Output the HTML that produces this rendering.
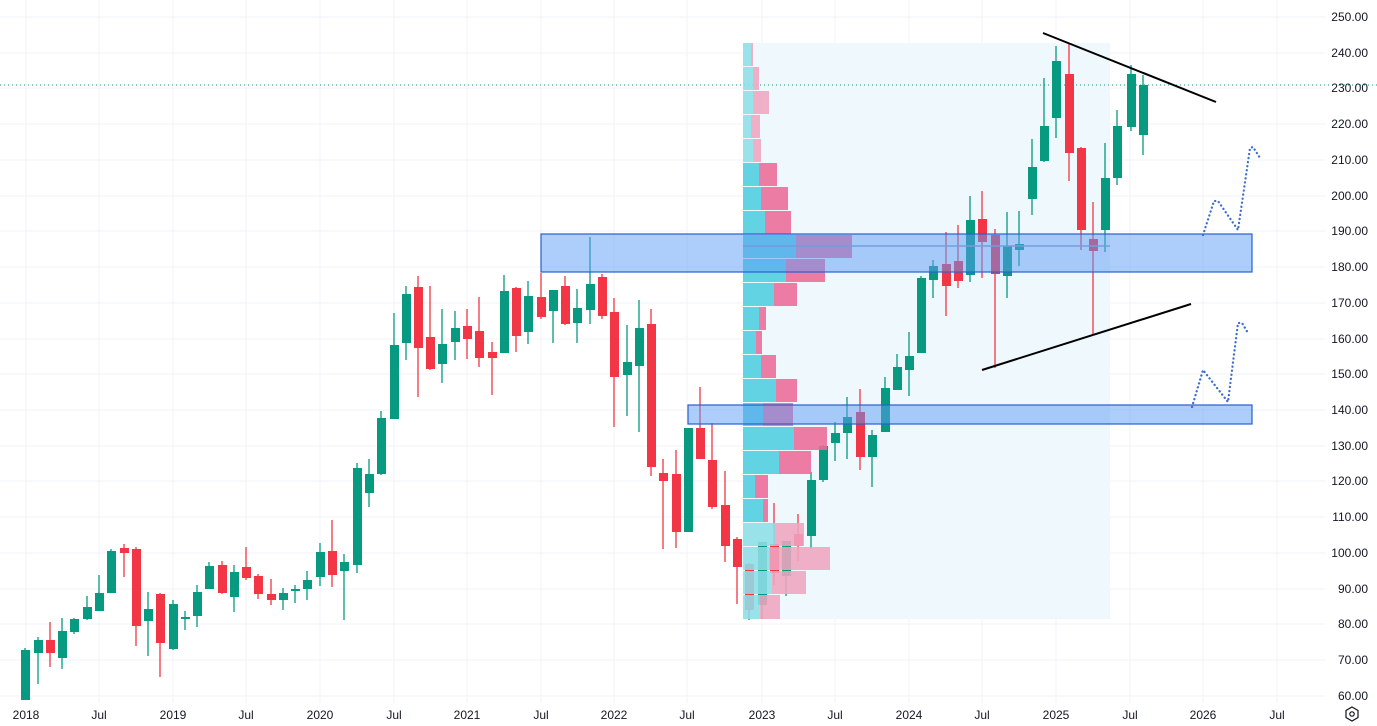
<!DOCTYPE html>
<html><head><meta charset="utf-8"><style>
html,body{margin:0;padding:0;background:#fff;}
svg{display:block;font-family:"Liberation Sans",sans-serif;}
</style></head><body>
<svg width="1377" height="726" viewBox="0 0 1377 726" xmlns="http://www.w3.org/2000/svg">
<rect width="1377" height="726" fill="#fff"/>
<g stroke="#f0f3fa" stroke-width="1">
<line x1="26" y1="0" x2="26" y2="703"/><line x1="99" y1="0" x2="99" y2="703"/><line x1="173" y1="0" x2="173" y2="703"/><line x1="246" y1="0" x2="246" y2="703"/><line x1="320" y1="0" x2="320" y2="703"/><line x1="394" y1="0" x2="394" y2="703"/><line x1="467" y1="0" x2="467" y2="703"/><line x1="541" y1="0" x2="541" y2="703"/><line x1="614" y1="0" x2="614" y2="703"/><line x1="687" y1="0" x2="687" y2="703"/><line x1="762" y1="0" x2="762" y2="703"/><line x1="835" y1="0" x2="835" y2="703"/><line x1="909" y1="0" x2="909" y2="703"/><line x1="982" y1="0" x2="982" y2="703"/><line x1="1056" y1="0" x2="1056" y2="703"/><line x1="1130" y1="0" x2="1130" y2="703"/><line x1="1203" y1="0" x2="1203" y2="703"/><line x1="1277" y1="0" x2="1277" y2="703"/>
<line x1="0" y1="17" x2="1325" y2="17"/><line x1="0" y1="53" x2="1325" y2="53"/><line x1="0" y1="88" x2="1325" y2="88"/><line x1="0" y1="124" x2="1325" y2="124"/><line x1="0" y1="160" x2="1325" y2="160"/><line x1="0" y1="196" x2="1325" y2="196"/><line x1="0" y1="231" x2="1325" y2="231"/><line x1="0" y1="267" x2="1325" y2="267"/><line x1="0" y1="303" x2="1325" y2="303"/><line x1="0" y1="339" x2="1325" y2="339"/><line x1="0" y1="374" x2="1325" y2="374"/><line x1="0" y1="410" x2="1325" y2="410"/><line x1="0" y1="446" x2="1325" y2="446"/><line x1="0" y1="481" x2="1325" y2="481"/><line x1="0" y1="517" x2="1325" y2="517"/><line x1="0" y1="553" x2="1325" y2="553"/><line x1="0" y1="589" x2="1325" y2="589"/><line x1="0" y1="624" x2="1325" y2="624"/><line x1="0" y1="660" x2="1325" y2="660"/><line x1="0" y1="696" x2="1325" y2="696"/>
</g>
<rect x="743" y="43" width="367" height="576" fill="#eff8fd"/>
<line x1="0" y1="85" x2="1377" y2="85" stroke="#089981" stroke-width="1" stroke-dasharray="1,3"/>
<g stroke-width="1.3">
<line x1="25" y1="648" x2="25" y2="700" stroke="#089981"/><rect x="21" y="650" width="9" height="50" fill="#089981"/>
<line x1="38" y1="637" x2="38" y2="684" stroke="#089981"/><rect x="34" y="640" width="9" height="13" fill="#089981"/>
<line x1="50" y1="622" x2="50" y2="667" stroke="#f23645"/><rect x="46" y="640" width="9" height="13" fill="#f23645"/>
<line x1="62" y1="618" x2="62" y2="669" stroke="#089981"/><rect x="58" y="631" width="9" height="27" fill="#089981"/>
<line x1="74" y1="618" x2="74" y2="634" stroke="#089981"/><rect x="70" y="619" width="9" height="13" fill="#089981"/>
<line x1="87" y1="596" x2="87" y2="620" stroke="#089981"/><rect x="83" y="607" width="9" height="12" fill="#089981"/>
<line x1="99" y1="575" x2="99" y2="611" stroke="#089981"/><rect x="95" y="593" width="9" height="18" fill="#089981"/>
<line x1="111" y1="549" x2="111" y2="593" stroke="#089981"/><rect x="107" y="551" width="9" height="42" fill="#089981"/>
<line x1="124" y1="544" x2="124" y2="577" stroke="#f23645"/><rect x="120" y="548" width="9" height="5" fill="#f23645"/>
<line x1="136" y1="547" x2="136" y2="646" stroke="#f23645"/><rect x="132" y="549" width="9" height="77" fill="#f23645"/>
<line x1="148" y1="592" x2="148" y2="656" stroke="#089981"/><rect x="144" y="609" width="9" height="12" fill="#089981"/>
<line x1="160" y1="593" x2="160" y2="677" stroke="#f23645"/><rect x="156" y="594" width="9" height="49" fill="#f23645"/>
<line x1="173" y1="600" x2="173" y2="650" stroke="#089981"/><rect x="169" y="604" width="9" height="45" fill="#089981"/>
<line x1="185" y1="611" x2="185" y2="630" stroke="#089981"/><rect x="181" y="617" width="9" height="2" fill="#089981"/>
<line x1="197" y1="585" x2="197" y2="627" stroke="#089981"/><rect x="193" y="592" width="9" height="24" fill="#089981"/>
<line x1="209" y1="562" x2="209" y2="589" stroke="#089981"/><rect x="205" y="566" width="9" height="23" fill="#089981"/>
<line x1="222" y1="561" x2="222" y2="594" stroke="#f23645"/><rect x="218" y="565" width="9" height="28" fill="#f23645"/>
<line x1="234" y1="565" x2="234" y2="612" stroke="#089981"/><rect x="230" y="572" width="9" height="25" fill="#089981"/>
<line x1="246" y1="547" x2="246" y2="580" stroke="#f23645"/><rect x="242" y="567" width="9" height="11" fill="#f23645"/>
<line x1="258" y1="574" x2="258" y2="599" stroke="#f23645"/><rect x="254" y="576" width="9" height="18" fill="#f23645"/>
<line x1="271" y1="579" x2="271" y2="605" stroke="#f23645"/><rect x="267" y="594" width="9" height="6" fill="#f23645"/>
<line x1="283" y1="588" x2="283" y2="610" stroke="#089981"/><rect x="279" y="593" width="9" height="7" fill="#089981"/>
<line x1="295" y1="585" x2="295" y2="603" stroke="#089981"/><rect x="291" y="589" width="9" height="2" fill="#089981"/>
<line x1="307" y1="571" x2="307" y2="600" stroke="#089981"/><rect x="303" y="580" width="9" height="9" fill="#089981"/>
<line x1="320" y1="543" x2="320" y2="586" stroke="#089981"/><rect x="316" y="552" width="9" height="25" fill="#089981"/>
<line x1="332" y1="520" x2="332" y2="587" stroke="#f23645"/><rect x="328" y="551" width="9" height="24" fill="#f23645"/>
<line x1="344" y1="554" x2="344" y2="620" stroke="#089981"/><rect x="340" y="562" width="9" height="9" fill="#089981"/>
<line x1="357" y1="463" x2="357" y2="573" stroke="#089981"/><rect x="353" y="468" width="9" height="97" fill="#089981"/>
<line x1="369" y1="459" x2="369" y2="507" stroke="#089981"/><rect x="365" y="474" width="9" height="19" fill="#089981"/>
<line x1="381" y1="411" x2="381" y2="475" stroke="#089981"/><rect x="377" y="418" width="9" height="56" fill="#089981"/>
<line x1="394" y1="313" x2="394" y2="419" stroke="#089981"/><rect x="390" y="345" width="9" height="74" fill="#089981"/>
<line x1="406" y1="286" x2="406" y2="360" stroke="#089981"/><rect x="402" y="294" width="9" height="49" fill="#089981"/>
<line x1="418" y1="276" x2="418" y2="397" stroke="#f23645"/><rect x="414" y="287" width="9" height="61" fill="#f23645"/>
<line x1="430" y1="286" x2="430" y2="370" stroke="#f23645"/><rect x="426" y="337" width="9" height="32" fill="#f23645"/>
<line x1="442" y1="309" x2="442" y2="383" stroke="#089981"/><rect x="438" y="344" width="9" height="20" fill="#089981"/>
<line x1="455" y1="311" x2="455" y2="360" stroke="#089981"/><rect x="451" y="328" width="9" height="14" fill="#089981"/>
<line x1="467" y1="309" x2="467" y2="359" stroke="#f23645"/><rect x="463" y="326" width="9" height="13" fill="#f23645"/>
<line x1="479" y1="297" x2="479" y2="367" stroke="#f23645"/><rect x="475" y="331" width="9" height="27" fill="#f23645"/>
<line x1="492" y1="342" x2="492" y2="395" stroke="#f23645"/><rect x="488" y="352" width="9" height="6" fill="#f23645"/>
<line x1="504" y1="275" x2="504" y2="353" stroke="#089981"/><rect x="500" y="291" width="9" height="62" fill="#089981"/>
<line x1="516" y1="287" x2="516" y2="352" stroke="#f23645"/><rect x="512" y="288" width="9" height="48" fill="#f23645"/>
<line x1="528" y1="281" x2="528" y2="344" stroke="#089981"/><rect x="524" y="296" width="9" height="36" fill="#089981"/>
<line x1="541" y1="273" x2="541" y2="319" stroke="#f23645"/><rect x="537" y="297" width="9" height="20" fill="#f23645"/>
<line x1="553" y1="290" x2="553" y2="343" stroke="#089981"/><rect x="549" y="290" width="9" height="21" fill="#089981"/>
<line x1="565" y1="276" x2="565" y2="325" stroke="#f23645"/><rect x="561" y="286" width="9" height="38" fill="#f23645"/>
<line x1="577" y1="289" x2="577" y2="343" stroke="#089981"/><rect x="573" y="308" width="9" height="15" fill="#089981"/>
<line x1="590" y1="237" x2="590" y2="324" stroke="#089981"/><rect x="586" y="284" width="9" height="26" fill="#089981"/>
<line x1="602" y1="274" x2="602" y2="319" stroke="#f23645"/><rect x="598" y="277" width="9" height="39" fill="#f23645"/>
<line x1="614" y1="298" x2="614" y2="427" stroke="#f23645"/><rect x="610" y="312" width="9" height="65" fill="#f23645"/>
<line x1="627" y1="325" x2="627" y2="416" stroke="#089981"/><rect x="623" y="362" width="9" height="13" fill="#089981"/>
<line x1="639" y1="300" x2="639" y2="432" stroke="#089981"/><rect x="635" y="328" width="9" height="38" fill="#089981"/>
<line x1="651" y1="309" x2="651" y2="476" stroke="#f23645"/><rect x="647" y="324" width="9" height="143" fill="#f23645"/>
<line x1="663" y1="459" x2="663" y2="549" stroke="#f23645"/><rect x="659" y="473" width="9" height="8" fill="#f23645"/>
<line x1="676" y1="450" x2="676" y2="548" stroke="#f23645"/><rect x="672" y="474" width="9" height="58" fill="#f23645"/>
<line x1="688" y1="428" x2="688" y2="532" stroke="#089981"/><rect x="684" y="428" width="9" height="104" fill="#089981"/>
<line x1="700" y1="387" x2="700" y2="459" stroke="#f23645"/><rect x="696" y="428" width="9" height="31" fill="#f23645"/>
<line x1="712" y1="423" x2="712" y2="509" stroke="#f23645"/><rect x="708" y="460" width="9" height="47" fill="#f23645"/>
<line x1="725" y1="471" x2="725" y2="562" stroke="#f23645"/><rect x="721" y="505" width="9" height="41" fill="#f23645"/>
<line x1="737" y1="537" x2="737" y2="604" stroke="#f23645"/><rect x="733" y="539" width="9" height="28" fill="#f23645"/>
<line x1="749" y1="563" x2="749" y2="620" stroke="#f23645"/><rect x="745" y="564" width="9" height="46" fill="#f23645"/>
<line x1="762" y1="542" x2="762" y2="619" stroke="#089981"/><rect x="758" y="542" width="9" height="63" fill="#089981"/>
<line x1="774" y1="503" x2="774" y2="585" stroke="#f23645"/><rect x="770" y="544" width="9" height="29" fill="#f23645"/>
<line x1="786" y1="541" x2="786" y2="596" stroke="#089981"/><rect x="782" y="541" width="9" height="35" fill="#089981"/>
<line x1="798" y1="514" x2="798" y2="561" stroke="#f23645"/><rect x="794" y="534" width="9" height="12" fill="#f23645"/>
<line x1="811" y1="472" x2="811" y2="549" stroke="#089981"/><rect x="807" y="480" width="9" height="56" fill="#089981"/>
<line x1="823" y1="445" x2="823" y2="482" stroke="#089981"/><rect x="819" y="446" width="9" height="34" fill="#089981"/>
<line x1="835" y1="422" x2="835" y2="461" stroke="#089981"/><rect x="831" y="433" width="9" height="10" fill="#089981"/>
<line x1="847" y1="397" x2="847" y2="459" stroke="#089981"/><rect x="843" y="417" width="9" height="16" fill="#089981"/>
<line x1="860" y1="389" x2="860" y2="470" stroke="#f23645"/><rect x="856" y="412" width="9" height="45" fill="#f23645"/>
<line x1="872" y1="430" x2="872" y2="487" stroke="#089981"/><rect x="868" y="435" width="9" height="22" fill="#089981"/>
<line x1="885" y1="377" x2="885" y2="432" stroke="#089981"/><rect x="881" y="388" width="9" height="44" fill="#089981"/>
<line x1="897" y1="354" x2="897" y2="390" stroke="#089981"/><rect x="893" y="367" width="9" height="23" fill="#089981"/>
<line x1="909" y1="332" x2="909" y2="396" stroke="#089981"/><rect x="905" y="356" width="9" height="14" fill="#089981"/>
<line x1="921" y1="276" x2="921" y2="353" stroke="#089981"/><rect x="917" y="278" width="9" height="75" fill="#089981"/>
<line x1="933" y1="260" x2="933" y2="298" stroke="#089981"/><rect x="929" y="266" width="9" height="14" fill="#089981"/>
<line x1="946" y1="232" x2="946" y2="316" stroke="#f23645"/><rect x="942" y="264" width="9" height="22" fill="#f23645"/>
<line x1="958" y1="225" x2="958" y2="288" stroke="#f23645"/><rect x="954" y="261" width="9" height="20" fill="#f23645"/>
<line x1="970" y1="196" x2="970" y2="282" stroke="#089981"/><rect x="966" y="220" width="9" height="55" fill="#089981"/>
<line x1="982" y1="191" x2="982" y2="278" stroke="#f23645"/><rect x="978" y="219" width="9" height="23" fill="#f23645"/>
<line x1="995" y1="229" x2="995" y2="368" stroke="#f23645"/><rect x="991" y="235" width="9" height="39" fill="#f23645"/>
<line x1="1007" y1="212" x2="1007" y2="298" stroke="#089981"/><rect x="1003" y="246" width="9" height="30" fill="#089981"/>
<line x1="1019" y1="211" x2="1019" y2="266" stroke="#089981"/><rect x="1015" y="244" width="9" height="6" fill="#089981"/>
<line x1="1032" y1="139" x2="1032" y2="215" stroke="#089981"/><rect x="1028" y="167" width="9" height="32" fill="#089981"/>
<line x1="1044" y1="78" x2="1044" y2="162" stroke="#089981"/><rect x="1040" y="126" width="9" height="35" fill="#089981"/>
<line x1="1056" y1="46" x2="1056" y2="138" stroke="#089981"/><rect x="1052" y="61" width="9" height="57" fill="#089981"/>
<line x1="1069" y1="43" x2="1069" y2="181" stroke="#f23645"/><rect x="1065" y="74" width="9" height="79" fill="#f23645"/>
<line x1="1081" y1="147" x2="1081" y2="250" stroke="#f23645"/><rect x="1077" y="148" width="9" height="82" fill="#f23645"/>
<line x1="1093" y1="202" x2="1093" y2="335" stroke="#f23645"/><rect x="1089" y="239" width="9" height="12" fill="#f23645"/>
<line x1="1105" y1="143" x2="1105" y2="252" stroke="#089981"/><rect x="1101" y="178" width="9" height="52" fill="#089981"/>
<line x1="1117" y1="110" x2="1117" y2="185" stroke="#089981"/><rect x="1113" y="126" width="9" height="52" fill="#089981"/>
<line x1="1131" y1="65" x2="1131" y2="131" stroke="#089981"/><rect x="1127" y="74" width="9" height="53" fill="#089981"/>
<line x1="1143" y1="75" x2="1143" y2="155" stroke="#089981"/><rect x="1139" y="85" width="9" height="50" fill="#089981"/>
</g>
<g opacity="0.88">
<rect x="743" y="43" width="8" height="23" fill="#8fdfe8"/><rect x="751" y="43" width="2" height="23" fill="#f0a6c0"/>
<rect x="743" y="67" width="10" height="23" fill="#8fdfe8"/><rect x="753" y="67" width="6" height="23" fill="#f0a6c0"/>
<rect x="743" y="91" width="10" height="23" fill="#8fdfe8"/><rect x="753" y="91" width="16" height="23" fill="#f0a6c0"/>
<rect x="743" y="115" width="8" height="23" fill="#8fdfe8"/><rect x="751" y="115" width="9" height="23" fill="#f0a6c0"/>
<rect x="743" y="139" width="10" height="23" fill="#8fdfe8"/><rect x="753" y="139" width="8" height="23" fill="#f0a6c0"/>
<rect x="743" y="163" width="16" height="23" fill="#4fcfe0"/><rect x="759" y="163" width="18" height="23" fill="#ec6b98"/>
<rect x="743" y="187" width="18" height="23" fill="#4fcfe0"/><rect x="761" y="187" width="27" height="23" fill="#ec6b98"/>
<rect x="743" y="211" width="22" height="23" fill="#4fcfe0"/><rect x="765" y="211" width="26" height="23" fill="#ec6b98"/>
<rect x="743" y="235" width="53" height="23" fill="#4fcfe0"/><rect x="796" y="235" width="56" height="23" fill="#ec6b98"/>
<rect x="743" y="259" width="43" height="23" fill="#4fcfe0"/><rect x="786" y="259" width="39" height="23" fill="#ec6b98"/>
<rect x="743" y="283" width="31" height="23" fill="#4fcfe0"/><rect x="774" y="283" width="23" height="23" fill="#ec6b98"/>
<rect x="743" y="307" width="16" height="23" fill="#4fcfe0"/><rect x="759" y="307" width="7" height="23" fill="#ec6b98"/>
<rect x="743" y="331" width="13" height="23" fill="#4fcfe0"/><rect x="756" y="331" width="6" height="23" fill="#ec6b98"/>
<rect x="743" y="355" width="18" height="23" fill="#4fcfe0"/><rect x="761" y="355" width="15" height="23" fill="#ec6b98"/>
<rect x="743" y="379" width="33" height="23" fill="#4fcfe0"/><rect x="776" y="379" width="21" height="23" fill="#ec6b98"/>
<rect x="743" y="403" width="20" height="23" fill="#4fcfe0"/><rect x="763" y="403" width="30" height="23" fill="#ec6b98"/>
<rect x="743" y="427" width="51" height="23" fill="#4fcfe0"/><rect x="794" y="427" width="33" height="23" fill="#ec6b98"/>
<rect x="743" y="451" width="36" height="23" fill="#4fcfe0"/><rect x="779" y="451" width="32" height="23" fill="#ec6b98"/>
<rect x="743" y="475" width="12" height="23" fill="#4fcfe0"/><rect x="755" y="475" width="13" height="23" fill="#ec6b98"/>
<rect x="743" y="499" width="20" height="23" fill="#4fcfe0"/><rect x="763" y="499" width="5" height="23" fill="#ec6b98"/>
<rect x="743" y="523" width="32" height="23" fill="#8fdfe8"/><rect x="775" y="523" width="29" height="23" fill="#f0a6c0"/>
<rect x="743" y="547" width="26" height="23" fill="#8fdfe8"/><rect x="769" y="547" width="61" height="23" fill="#f0a6c0"/>
<rect x="743" y="571" width="29" height="23" fill="#8fdfe8"/><rect x="772" y="571" width="34" height="23" fill="#f0a6c0"/>
<rect x="743" y="595" width="17" height="24" fill="#8fdfe8"/><rect x="760" y="595" width="20" height="24" fill="#f0a6c0"/>
</g>
<line x1="743" y1="246" x2="1110" y2="246" stroke="#8a9cc0" stroke-width="1.5"/>
<rect x="541" y="234" width="711" height="38" fill="#5b9cf5" fill-opacity="0.5" stroke="#2a5fd0" stroke-width="1.2"/>
<rect x="688" y="405" width="564" height="19" fill="#5b9cf5" fill-opacity="0.5" stroke="#2a5fd0" stroke-width="1.2"/>
<line x1="1043" y1="33" x2="1216" y2="102" stroke="#000" stroke-width="2"/>
<line x1="982" y1="370" x2="1191" y2="304" stroke="#000" stroke-width="2"/>
<g fill="none" stroke="#3a6fd0" stroke-width="2.3" stroke-dasharray="0.1,4" stroke-linecap="round">
<polyline points="1203,235 1214,201 1218,201 1238,230 1250,148 1253,147 1260,158"/>
<polyline points="1192,407 1203,370 1228,402 1238,323 1242,323 1248,333"/>
</g>
<g font-size="12" fill="#131722" text-anchor="end">
<text x="1368" y="21">250.00</text><text x="1368" y="57">240.00</text><text x="1368" y="92">230.00</text><text x="1368" y="128">220.00</text><text x="1368" y="164">210.00</text><text x="1368" y="200">200.00</text><text x="1368" y="235">190.00</text><text x="1368" y="271">180.00</text><text x="1368" y="307">170.00</text><text x="1368" y="343">160.00</text><text x="1368" y="378">150.00</text><text x="1368" y="414">140.00</text><text x="1368" y="450">130.00</text><text x="1368" y="485">120.00</text><text x="1368" y="521">110.00</text><text x="1368" y="557">100.00</text><text x="1368" y="593">90.00</text><text x="1368" y="628">80.00</text><text x="1368" y="664">70.00</text><text x="1368" y="700">60.00</text>
</g>
<g font-size="12" fill="#131722" text-anchor="middle">
<text x="26" y="719">2018</text><text x="99" y="719">Jul</text><text x="173" y="719">2019</text><text x="246" y="719">Jul</text><text x="320" y="719">2020</text><text x="394" y="719">Jul</text><text x="467" y="719">2021</text><text x="541" y="719">Jul</text><text x="614" y="719">2022</text><text x="687" y="719">Jul</text><text x="762" y="719">2023</text><text x="835" y="719">Jul</text><text x="909" y="719">2024</text><text x="982" y="719">Jul</text><text x="1056" y="719">2025</text><text x="1130" y="719">Jul</text><text x="1203" y="719">2026</text><text x="1277" y="719">Jul</text>
</g>
<g fill="none" stroke="#131722" stroke-width="1.2">
<polygon points="1352,707 1358,710.5 1358,717.5 1352,721 1346,717.5 1346,710.5"/>
<circle cx="1352" cy="714" r="2.2"/>
</g>
</svg>
</body></html>
